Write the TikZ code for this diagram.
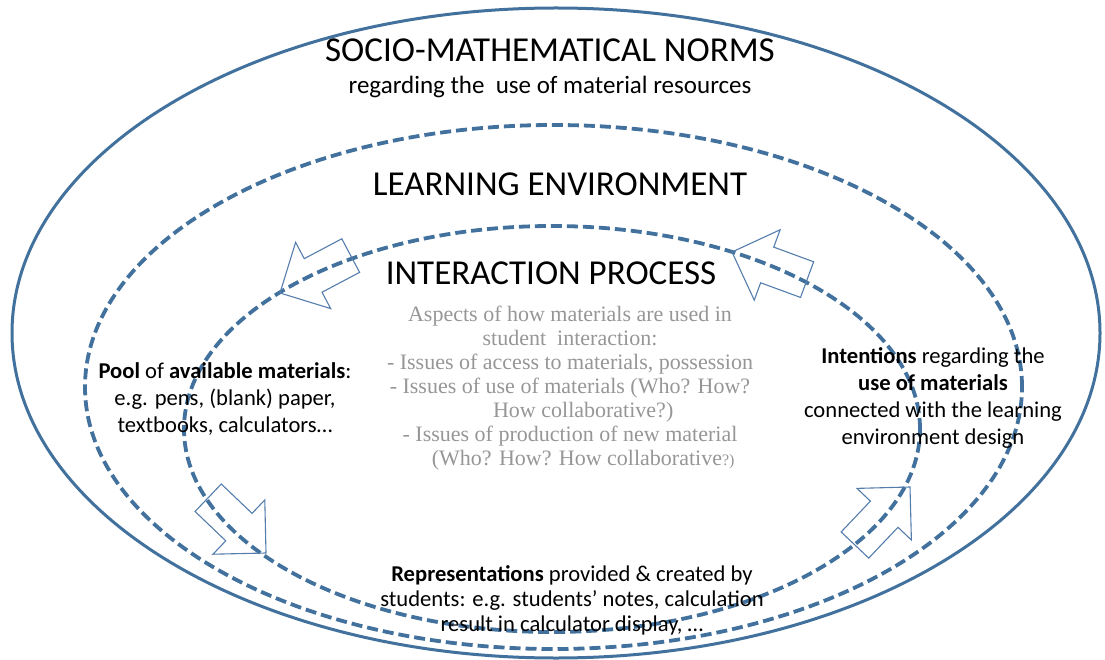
\documentclass[tikz,border=0pt]{standalone}
\usepackage{fontspec}
\setmainfont{Carlito}
\newfontfamily\aspectfont{Liberation Serif}

\definecolor{ringblue}{RGB}{65,113,156}
\definecolor{arrowblue}{RGB}{84,125,172}
\definecolor{aspectgray}{RGB}{150,150,150}

\tikzset{
	ring/.style={draw=ringblue, line width=3pt},
	dashring/.style={draw=ringblue, line width=3.8pt, dash pattern=on 11pt off 5pt},
	headline/.style={font=\fontsize{35}{40}\selectfont},
	bodytext/.style={font=\fontsize{22.6}{27}\selectfont, align=center},
	aspecttext/.style={font=\aspectfont\fontsize{22}{24}\selectfont, text=aspectgray, align=center},
	arrowline/.style={draw=arrowblue, line width=1.1pt, line join=miter},
	blockarrow/.pic={
		\draw[arrowline] (0,0) -- (-37.5,37.5) -- (-37.5,19) -- (-80,19) --
			(-80,-19) -- (-37.5,-19) -- (-37.5,-37.5) -- cycle;
	}
}

\begin{document}
\begin{tikzpicture}[x=1pt, y=1pt]
\useasboundingbox (0,0) rectangle (1105,-660);

% the three rings
\draw[ring] (556,-333) ellipse [x radius=544, y radius=325];
\draw[dashring] (553.5,-387) ellipse [x radius=468.5, y radius=262];
\draw[dashring] (552,-429) ellipse [x radius=368, y radius=203];

% headings
\node[headline] (norms) at (550,-50) {SOCIO-MATHEMATICAL NORMS};
\node[bodytext, font=\fontsize{25}{30}\selectfont] (normsub) at (550,-87) {regarding the\ \ use of material resources};
\node[headline] (learnenv) at (560,-184) {LEARNING ENVIRONMENT};
\node[headline] (interact) at (551,-273) {INTERACTION PROCESS};

% texts
\node[aspecttext] (aspects) at (570,-388) {Aspects of how materials are used in\\
	student\ \ interaction:\\
	- Issues of access to materials, possession\\
	- Issues of use of materials (Who? How?\\
	\hspace*{1.2em}How collaborative?)\\
	- Issues of production of new material\\
	\hspace*{1.2em}(Who? How? How collaborative{\fontsize{16}{24}\selectfont?)}};

\node[bodytext] (pool) at (225,-399) {\textbf{Pool} of \textbf{available materials}:\\
	e.g. pens, (blank) paper,\\
	textbooks, calculators\dots};

\node[bodytext] (intent) at (933,-397.5) {\textbf{Intentions} regarding the\\
	\textbf{use of materials}\\
	connected with the learning\\
	environment design};

\node[bodytext, font=\fontsize{22.6}{25}\selectfont] (repres) at (572,-600) {\textbf{Representations} provided \& created by\\
	students: e.g. students’ notes, calculation\\
	result in calculator display, \dots};

% block arrows
\pic[rotate=207.9] at (280,-293) {blockarrow};
\pic[rotate=159.8] at (732,-252) {blockarrow};
\pic[rotate=-43.7] at (266,-553) {blockarrow};
\pic[rotate=46.5] at (910,-487) {blockarrow};

\end{tikzpicture}
\end{document}
